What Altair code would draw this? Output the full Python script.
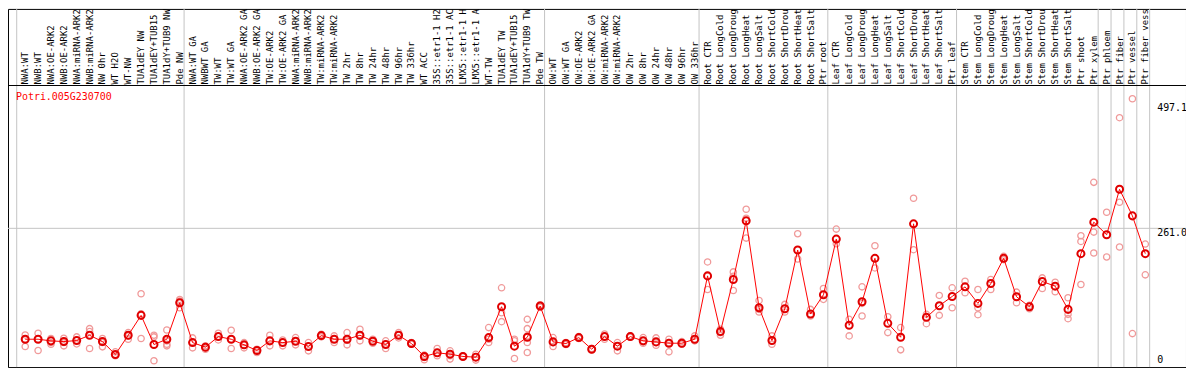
import altair as alt
import pandas as pd

labels = [
    "NWA:WT", "NWB:WT", "NWA:OE-ARK2", "NWB:OE-ARK2", "NWA:miRNA-ARK2", "NWB:miRNA-ARK2",
    "NW 0hr", "WT H2O", "WT-NW", "TUA1dEY NW", "TUA1dEY+TUB15", "TUA1dY+TUB9 NW", "Pde NW",
    "NWA:WT GA", "NWBWT GA", "TW:WT", "TW:WT GA", "NWA:OE-ARK2 GA", "NWB:OE-ARK2 GA",
    "TW:OE-ARK2", "TW:OE-ARK2 GA", "NWA:miRNA-ARK2", "NWB:miRNA-ARK2", "TW:miRNA-ARK2",
    "TW:miRNA-ARK2", "TW 2hr", "TW 8hr", "TW 24hr", "TW 48hr", "TW 96hr", "TW 336hr", "WT ACC",
    "35S::etr1-1 H2", "35S::etr1-1 AC", "LMX5::etr1-1 H", "LMX5::etr1-1 A", "WT-TW",
    "TUA1dEY TW", "TUA1dEY+TUB15", "TUA1dY+TUB9 TW", "Pde TW",
    "OW:WT", "OW:WT GA", "OW:OE-ARK2", "OW:OE-ARK2 GA", "OW:miRNA-ARK2", "OW:miRNA-ARK2",
    "OW 2hr", "OW 8hr", "OW 24hr", "OW 48hr", "OW 96hr", "OW 336hr",
    "Root CTR", "Root LongCold", "Root LongDroug", "Root LongHeat", "Root LongSalt",
    "Root ShortCold", "Root ShortDrou", "Root ShortHeat", "Root ShortSalt", "Ptr root",
    "Leaf CTR", "Leaf LongCold", "Leaf LongDroug", "Leaf LongHeat", "Leaf LongSalt",
    "Leaf ShortCold", "Leaf ShortDrou", "Leaf ShortHeat", "Leaf ShortSalt", "Ptr leaf",
    "Stem CTR", "Stem LongCold", "Stem LongDroug", "Stem LongHeat", "Stem LongSalt",
    "Stem ShortCold", "Stem ShortDrou", "Stem ShortHeat", "Stem ShortSalt", "Ptr shoot",
    "Ptr xylem", "Ptr phloem", "Ptr fiber", "Ptr vessel", "Ptr fiber vess",
]

means = [
    51.8, 51.8, 48.7, 47.4, 49.3, 59.3, 47.4, 23.0, 59.3, 96.8, 41.8, 51.8, 120.6,
    45.5, 36.8, 56.8, 51.8, 41.2, 30.5, 48.7, 45.5, 48.0, 38.0, 58.7, 51.8, 51.8, 59.3,
    48.0, 41.8, 59.3, 43.7, 19.3, 26.1, 23.6, 19.3, 18.0, 54.9, 113.1, 38.7, 55.6, 114.4,
    46.8, 43.7, 54.9, 33.0, 56.8, 38.7, 56.8, 48.7, 46.8, 44.3, 44.3, 51.8,
    171.3, 66.2, 164.4, 275.1, 111.2, 49.3, 109.4, 220.1, 99.3, 135.6,
    240.7, 78.1, 122.5, 204.4, 81.8, 55.6, 269.5, 93.1, 115.0, 132.5,
    150.6, 119.4, 156.9, 204.4, 131.9, 113.1, 160.7, 151.9, 108.1, 213.2, 272.6,
    248.9, 334.6, 284.5, 213.2,
]

replicates = [
    [59.9, 51.8, 38.0], [63.1, 51.8, 30.5], [53.1, 45.5, 42.4], [53.7, 45.5, 39.3],
    [56.2, 49.9, 43.0], [71.8, 66.2, 34.3], [53.1, 45.5, 37.4], [28.0, 23.0, 20.5],
    [64.3, 58.1, 51.8], [137.5, 100.0, 53.1], [59.3, 56.2, 11.1], [69.3, 48.7, 42.4, 39.3],
    [126.9, 123.7, 111.2],
    [54.3, 45.5, 35.5], [39.3, 34.3, 33.0], [63.1, 56.8, 50.5], [68.7, 51.8, 34.3],
    [45.5, 40.5, 35.5], [33.0, 29.9, 26.8], [59.3, 48.7, 39.3], [50.5, 45.5, 39.3],
    [54.9, 48.0, 41.2], [45.5, 38.0, 29.9], [61.2, 58.1, 56.2], [58.1, 51.8, 45.5],
    [64.3, 49.9, 41.2], [70.6, 58.1, 48.7], [51.8, 48.0, 44.3], [48.7, 42.4, 34.3],
    [64.3, 59.3, 54.3], [45.5, 42.4], [21.8, 17.4, 13.0], [34.3, 26.8, 20.5],
    [29.9, 20.5, 14.3], [20.5, 18.6], [23.6, 17.4, 12.4], [73.7, 51.8, 45.5],
    [148.8, 101.8, 85.0], [51.8, 48.7, 15.5], [89.3, 71.8, 58.1, 45.5, 26.8],
    [116.9, 114.4, 111.9],
    [54.9, 45.5, 38.0], [45.5, 41.8], [56.8, 53.1], [34.3, 31.8], [61.8, 56.8, 51.8],
    [45.5, 39.3, 29.9], [58.1, 55.6], [54.9, 48.7, 44.3], [54.3, 45.5, 40.5],
    [51.8, 45.5, 28.0], [47.4, 42.4], [58.1, 48.7],
    [197.6, 170.7, 145.6], [70.6, 64.3, 59.3], [178.8, 170.7, 143.8], [297.0, 280.1, 242.6],
    [125.0, 108.1, 103.1], [58.1, 48.7, 42.4], [117.5, 103.1], [250.7, 203.2],
    [108.1, 95.6], [147.5, 126.9],
    [259.5, 232.0], [89.3, 58.1], [150.6, 119.4, 95.6], [228.2, 186.3], [94.3, 64.3],
    [73.7, 31.8], [317.7, 220.7], [98.7, 81.2], [134.4, 96.8], [148.8, 111.2],
    [161.3, 139.4], [145.6, 111.2, 98.1], [164.4, 145.6], [208.2, 201.9], [140.6, 120.6],
    [115.6, 109.4], [167.5, 147.5], [159.4, 141.3], [130.0, 98.7, 90.6],
    [247.0, 236.3, 155.0], [347.7, 253.9, 214.5],
    [291.4, 206.9], [469.7, 310.2, 225.7], [505.4, 62.4], [231.3, 173.2],
]

group_starts = [0, 13, 41, 53, 63, 73, 84, 85, 86, 87, 88]
gene_name = "Potri.005G230700"
y_tick_values = [497.1, 261.0]
y_tick_texts = ["497.1", "261.0"]
y_zero_text = "0"
grid_value = 261.0
top_value = 530.4

FONT = "DejaVu Sans Mono"
xs = alt.Scale(domain=[-1.337, 90.162], nice=False, zero=False)
ys = alt.Scale(domain=[-0.75, 674.9], nice=False, zero=False)

mean_df = pd.DataFrame({"idx": list(range(len(labels))), "label": labels, "value": means})
rep_rows = []
for i, vals in enumerate(replicates):
    for v in vals:
        rep_rows.append({"idx": i, "value": v})
rep_df = pd.DataFrame(rep_rows)
bound_df = pd.DataFrame({"b": [s - 0.66 for s in group_starts]})

X = alt.X("idx:Q", scale=xs, axis=None)
Y = alt.Y("value:Q", scale=ys, axis=None)

vgrid = alt.Chart(bound_df).mark_rule(color="#c4c4c4", strokeWidth=1).encode(
    x=alt.X("b:Q", scale=xs, axis=None)
)
hgrid = alt.Chart(pd.DataFrame({"v": [grid_value]})).mark_rule(color="#c4c4c4", strokeWidth=1).encode(
    y=alt.Y("v:Q", scale=ys, axis=None)
)
sep = alt.Chart(pd.DataFrame({"v": [top_value]})).mark_rule(color="black", strokeWidth=1).encode(
    y=alt.Y("v:Q", scale=ys, axis=None)
)
rep_layer = alt.Chart(rep_df).mark_point(
    shape="circle", filled=False, color="#f09a9a", size=40, strokeWidth=1.3, opacity=1
).encode(x=X, y=Y)
line_layer = alt.Chart(mean_df).mark_line(color="#ff0000", strokeWidth=1).encode(x=X, y=Y)
mean_layer = alt.Chart(mean_df).mark_point(
    shape="circle", filled=False, color="#e00000", size=50, strokeWidth=2, opacity=1
).encode(x=X, y=Y)
label_layer = alt.Chart(mean_df).mark_text(
    angle=270, align="left", baseline="middle", font=FONT, fontSize=9, color="black"
).encode(x=X, y=alt.value(76), text="label:N")
title_layer = alt.Chart(pd.DataFrame({"t": [gene_name]})).mark_text(
    align="left", baseline="middle", font=FONT, fontSize=10, color="#ff0000"
).encode(x=alt.value(8), y=alt.value(89), text="t:N")
ytick_layer = alt.Chart(pd.DataFrame({"v": y_tick_values, "t": y_tick_texts})).mark_text(
    align="left", baseline="top", font=FONT, fontSize=10, color="black"
).encode(x=alt.value(1155), y=alt.Y("v:Q", scale=ys, axis=None), text="t:N")
yzero_layer = alt.Chart(pd.DataFrame({"v": [0.0], "t": [y_zero_text]})).mark_text(
    align="left", baseline="bottom", font=FONT, fontSize=10, color="black", dy=-2
).encode(x=alt.value(1155), y=alt.Y("v:Q", scale=ys, axis=None), text="t:N")

chart = alt.layer(
    vgrid, hgrid, sep, rep_layer, line_layer, mean_layer, label_layer, title_layer,
    ytick_layer, yzero_layer,
).properties(
    width=1184, height=360, padding=0,
    autosize=alt.AutoSizeParams(type="none"),
    background="white",
).configure_view(stroke="black", strokeWidth=1)

chart.save("out.html", embed_options={"renderer": "svg", "actions": False})
